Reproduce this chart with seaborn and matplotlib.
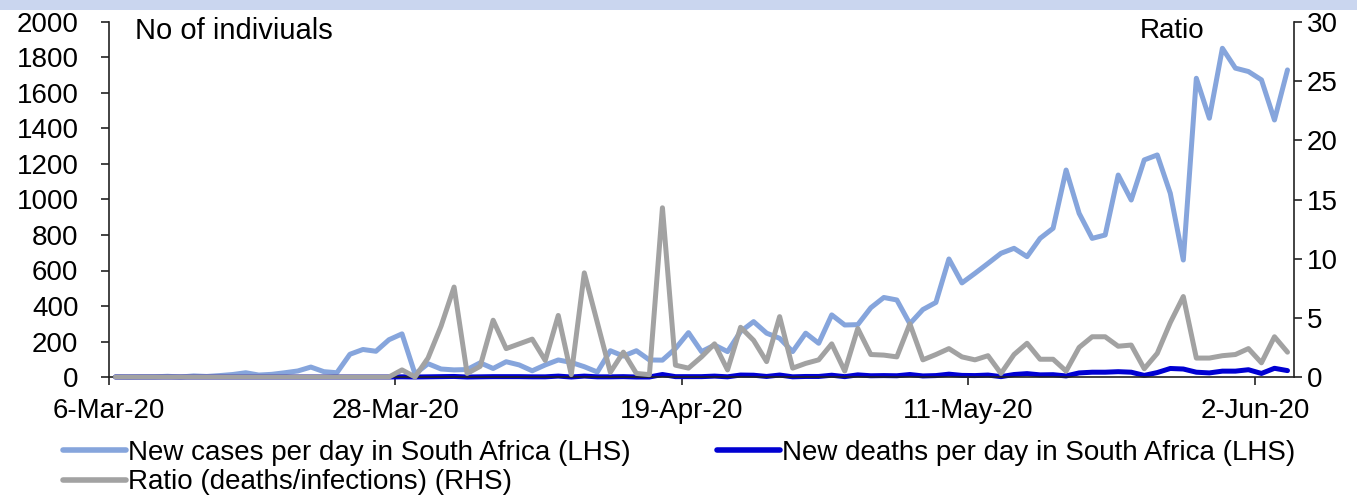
import matplotlib
matplotlib.use("Agg")
import matplotlib.pyplot as plt
from matplotlib.patches import Rectangle
import pandas as pd
import seaborn as sns

# ---- data -------------------------------------------------------------
start_date = "2020-03-06"
tick_labels = ["6-Mar-20", "28-Mar-20", "19-Apr-20", "11-May-20", "2-Jun-20"]

new_cases = [
    1, 0, 1, 1, 4, 0, 6, 3, 8, 14,
    24, 11, 15, 24, 34, 56, 30, 24, 128, 155,
    145, 210, 243, 17, 75, 45, 40, 42, 80, 48,
    86, 68, 35, 68, 96, 82, 58, 28, 148, 118,
    148, 96, 95, 160, 250, 143, 180, 143, 256, 312,
    247, 218, 143, 247, 190, 350, 293, 295, 390, 448,
    434, 300, 380, 420, 665, 530, 584, 640, 697, 725,
    678, 781, 838, 1166, 922, 781, 800, 1138, 997, 1223,
    1251, 1035, 659, 1683, 1458, 1852, 1740, 1721, 1674, 1448, 1730,
]

new_deaths = [
    0, 0, 0, 0, 0, 0, 0, 0, 0, 0,
    0, 0, 0, 0, 0, 0, 0, 0, 0, 0,
    0, 0, 1, 0, 1, 2, 3, 0, 1, 2,
    2, 2, 1, 1, 5, 0, 5, 1, 1, 2,
    0, 0, 14, 2, 2, 2, 5, 1, 11, 10,
    3, 11, 1, 3, 3, 10, 2, 12, 7, 8,
    7, 14, 6, 8, 16, 9, 8, 11, 2, 14,
    19, 12, 13, 6, 23, 27, 27, 30, 27, 9,
    25, 48, 45, 27, 23, 33, 33, 41, 20, 49, 36,
]

ratio_pct = [
    0, 0, 0, 0, 0, 0, 0, 0, 0, 0,
    0, 0, 0, 0, 0, 0, 0, 0, 0, 0,
    0, 0, 0.6, 0.0, 1.6, 4.3, 7.6, 0.3, 0.9, 4.8,
    2.4, 2.8, 3.2, 1.4, 5.2, 0.2, 8.8, 4.6, 0.4, 2.1,
    0.3, 0.2, 14.3, 1.0, 0.75, 1.7, 2.8, 0.6, 4.2, 3.1,
    1.3, 5.1, 0.75, 1.15, 1.45, 2.8, 0.5, 4.1, 1.9, 1.85,
    1.7, 4.5, 1.45, 1.9, 2.4, 1.7, 1.45, 1.8, 0.3, 1.9,
    2.85, 1.5, 1.5, 0.5, 2.5, 3.4, 3.4, 2.6, 2.7, 0.7,
    2.0, 4.6, 6.8, 1.6, 1.6, 1.8, 1.9, 2.4, 1.2, 3.4, 2.1,
]

series_labels = [
    "New cases per day in South Africa (LHS)",
    "New deaths per day in South Africa (LHS)",
    "Ratio (deaths/infections) (RHS)",
]
left_title = "No of indiviuals"
right_title = "Ratio"

# ---- styling ----------------------------------------------------------
sns.set_style("white")
plt.rcParams["font.family"] = ["Liberation Sans", "DejaVu Sans"]
plt.rcParams["font.size"] = 20
plt.rcParams["text.color"] = "black"
plt.rcParams["xtick.color"] = "black"
plt.rcParams["ytick.color"] = "black"

CASES_COLOR = "#86a5dc"
DEATHS_COLOR = "#0000d2"
RATIO_COLOR = "#a2a2a2"
SPINE_COLOR = "#222222"
LW = 3.6

W, H = 1357, 499
fig = plt.figure(figsize=(W / 100, H / 100), dpi=100)

# pale banner strip along the top edge
fig.patches.append(Rectangle((0, 1 - 10 / H), 1, 10 / H, transform=fig.transFigure,
                             facecolor="#cad6ef", edgecolor="none", zorder=0))

ax = fig.add_axes([109 / W, 1 - 377 / H, (1294 - 109) / W, (377 - 22) / H])
ax2 = ax.twinx()

# one point per day, centred within its day
dates = pd.date_range(start_date, periods=len(new_cases), freq="D")
df = pd.DataFrame({
    "date": dates + pd.Timedelta(hours=12),
    "cases": new_cases,
    "deaths": new_deaths,
    "ratio": ratio_pct,
})

sns.lineplot(data=df, x="date", y="cases", ax=ax, color=CASES_COLOR, lw=LW,
             clip_on=False, label=series_labels[0], legend=False)
sns.lineplot(data=df, x="date", y="deaths", ax=ax, color=DEATHS_COLOR, lw=LW,
             clip_on=False, label=series_labels[1], legend=False)
sns.lineplot(data=df, x="date", y="ratio", ax=ax2, color=RATIO_COLOR, lw=LW,
             clip_on=False, label=series_labels[2], legend=False)

# axes ranges and ticks
ax.set_xlim(dates[0], dates[-1] + pd.Timedelta(days=1))
ax.set_ylim(0, 2000)
ax2.set_ylim(0, 30)
ax.set_yticks(range(0, 2001, 200))
ax2.set_yticks(range(0, 31, 5))
tick_dates = pd.to_datetime(tick_labels, format="%d-%b-%y")
ax.set_xticks(tick_dates)
ax.set_xticklabels(tick_labels)

for a in (ax, ax2):
    a.set_xlabel("")
    a.set_ylabel("")
    a.spines["top"].set_visible(False)
    for s in a.spines.values():
        s.set_color(SPINE_COLOR)
        s.set_linewidth(1.2)
ax2.spines["left"].set_visible(False)
ax2.spines["bottom"].set_visible(False)
ax.spines["right"].set_visible(False)

ax.tick_params(axis="y", direction="out", length=6, width=1.2, color=SPINE_COLOR,
               pad=16, labelsize=20, left=True)
ax.tick_params(axis="x", direction="out", length=6, width=1.2, color=SPINE_COLOR,
               pad=9, labelsize=20, bottom=True)
ax2.tick_params(axis="y", direction="out", length=6, width=1.2, color=SPINE_COLOR,
                pad=3, labelsize=20, right=True)

# axis captions inside the plot area
fig.text(135 / W, 1 - 31 / H, left_title, ha="left", va="center", fontsize=21)
fig.text(1140 / W, 1 - 31 / H, right_title, ha="left", va="center", fontsize=20)

# legend below the plot, rows: cases | deaths, then ratio
h1 = ax.get_lines()[0]
h2 = ax.get_lines()[1]
h3 = ax2.get_lines()[0]
leg = fig.legend([h1, h3, h2], [series_labels[0], series_labels[2], series_labels[1]],
                 ncol=2, loc="upper left", bbox_to_anchor=(63 / W, 1 - 440 / H),
                 frameon=False, fontsize=20, handlelength=2.25, handletextpad=0.1,
                 columnspacing=3.1, labelspacing=0.12, borderpad=0, borderaxespad=0)
for line in leg.get_lines():
    line.set_linewidth(4)

fig.savefig("out.png", dpi=100)
